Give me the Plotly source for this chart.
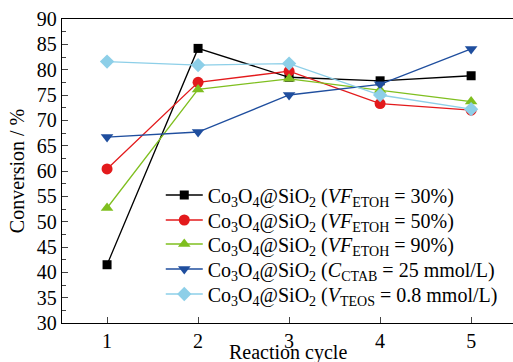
import plotly.graph_objects as go

cycles = [1, 2, 3, 4, 5]
vf30 = [41.5, 84.2, 78.5, 77.8, 78.8]
vf50 = [60.4, 77.5, 79.7, 73.3, 72.0]
vf90 = [52.7, 76.1, 78.2, 76.0, 73.7]
ctab25 = [66.7, 67.7, 75.0, 77.1, 84.1]
teos08 = [81.6, 80.9, 81.2, 75.0, 72.2]

base = "Co<sub>3</sub>O<sub>4</sub>@SiO<sub>2</sub> "
names = [
    base + "(<i>VF</i><sub>ETOH</sub> = 30%)",
    base + "(<i>VF</i><sub>ETOH</sub> = 50%)",
    base + "(<i>VF</i><sub>ETOH</sub> = 90%)",
    base + "(<i>C</i><sub>CTAB</sub> = 25 mmol/L)",
    base + "(<i>V</i><sub>TEOS</sub> = 0.8 mmol/L)",
]
series = [vf30, vf50, vf90, ctab25, teos08]
colors = ["#000000", "#e31a1c", "#7fbf1f", "#1f4e9e", "#8dcfe8"]
symbols = ["square", "circle", "triangle-up", "triangle-down", "diamond"]
sizes = [9, 11, 11, 11, 11]
legend_rows_px = [195, 220, 244, 269, 294]
x_title = "Reaction cycle"

font = "Liberation Serif"
plot_top, plot_h = 19, 304

fig = go.Figure()
layout_legends = {}
for i, (n, s, c, m, sz) in enumerate(zip(names, series, colors, symbols, sizes)):
    lname = "legend" if i == 0 else f"legend{i+1}"
    fig.add_trace(go.Scatter(x=cycles, y=s, name=n, mode="lines+markers",
                             line=dict(color=c, width=1.3),
                             marker=dict(symbol=m, size=sz, color=c),
                             legend=lname))
    layout_legends[lname] = dict(
        x=0.219, y=1 - (legend_rows_px[i] - plot_top) / plot_h,
        xanchor="left", yanchor="middle", bgcolor="rgba(0,0,0,0)",
        font=dict(family=font, size=20, color="black"), itemwidth=37,
        borderwidth=0)

fig.update_layout(
    width=513, height=362,
    margin=dict(l=62, r=0, t=plot_top, b=362 - plot_top - plot_h,
                autoexpand=False),
    paper_bgcolor="white", plot_bgcolor="white",
    font=dict(family=font, size=20, color="black"),
    showlegend=True,
    xaxis=dict(range=[0.505, 5.46], tickvals=cycles, ticks="inside",
               ticklen=6, showline=True, linecolor="black", linewidth=1.3,
               mirror=True, showgrid=False, zeroline=False, automargin=False,
               tickfont=dict(family=font, size=20, color="black")),
    yaxis=dict(range=[30, 90], tickvals=list(range(30, 91, 5)),
               ticks="inside", ticklen=6, showline=True, linecolor="black",
               linewidth=1.3, showgrid=False, zeroline=False, automargin=False,
               minor=dict(ticks="inside", ticklen=4, dtick=2.5, tick0=30,
                          showgrid=False),
               title=dict(text="Conversion / %", standoff=6,
                          font=dict(family=font, size=20, color="black")),
               tickfont=dict(family=font, size=20, color="black")),
    annotations=[dict(text=x_title, xref="paper", yref="paper", x=0.5,
                      y=(plot_top + plot_h - 339) / plot_h, xanchor="center",
                      yanchor="top", showarrow=False,
                      font=dict(family=font, size=20, color="black"))],
    **layout_legends,
)
fig.write_html("out.html", config={"displayModeBar": False},
               post_script="document.body.style.margin='0';")
